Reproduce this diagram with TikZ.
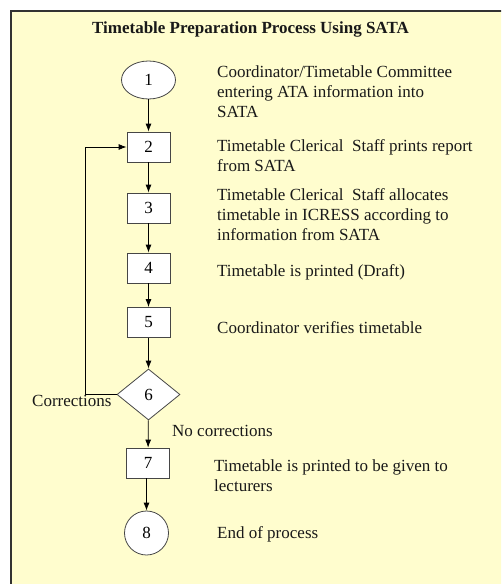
\documentclass[tikz,border=0pt]{standalone}
\usepackage{fontspec}
\setmainfont{Liberation Serif}
\usetikzlibrary{shapes.geometric,arrows.meta}
\definecolor{paper}{RGB}{255,253,206}
\definecolor{frame}{RGB}{50,50,50}
\definecolor{edge}{RGB}{70,70,70}
\definecolor{ink}{RGB}{25,25,25}
\begin{document}
\begin{tikzpicture}[x=1pt,y=-1pt,
  every node/.style={font=\fontsize{17}{20}\selectfont, text=ink},
  stepnode/.style={draw=edge, fill=white, line width=0.8pt, inner sep=0pt, text=black},
  boxnode/.style={stepnode, rectangle, minimum width=43pt, minimum height=30pt},
  ovalnode/.style={stepnode, ellipse, minimum width=54pt, minimum height=38pt},
  roundnode/.style={stepnode, circle, minimum size=44pt},
  choicenode/.style={stepnode, diamond, minimum width=63pt, minimum height=51pt},
  desc/.style={anchor=base west, inner sep=0pt},
  flow/.style={draw=black, line width=0.8pt, -{Latex[length=8pt,width=6pt]}}
]
\useasboundingbox (0,0) rectangle (501,584);
\clip (0,0) rectangle (501,584);
\fill[white] (0,0) rectangle (501,584);
\draw[fill=paper, draw=frame, line width=1.6pt] (10.8,10.8) rectangle (530,610);

\node[anchor=base, inner sep=0pt, font=\fontsize{17}{20}\selectfont\bfseries] (title) at (250.5,33) {Timetable Preparation Process Using SATA};

\node[ovalnode] (n1) at (148.5,80) {1};
\node[boxnode] (n2) at (148.5,147) {2};
\node[boxnode] (n3) at (148.5,208) {3};
\node[boxnode] (n4) at (148.5,268) {4};
\node[boxnode] (n5) at (148.5,322.5) {5};
\node[choicenode] (n6) at (148.5,394.5) {6};
\node[boxnode] (n7) at (148,463) {7};
\node[roundnode] (n8) at (146.5,533) {8};

\draw[flow] (n1) -- (n2);
\draw[flow] (n2) -- (n3);
\draw[flow] (n3) -- (n4);
\draw[flow] (n4) -- (n5);
\draw[flow] (n5) -- (n6);
\draw[flow] (n6) -- (n7);
\draw[flow] (n7.south -| n8.north) -- (n8.north);
\coordinate (fb) at (85.5,394.5);
\draw[flow] (n6.west) -- (fb) |- (n2.west);

\node[desc] (corr) at (32,406) {Corrections};
\node[desc] (nocorr) at (172,436) {No corrections};

\node[desc] (d1a) at (217,77.5) {Coordinator/Timetable Committee};
\node[desc] (d1b) at (217,97.5) {entering ATA information into};
\node[desc] (d1c) at (217,117.5) {SATA};
\node[desc] (d2a) at (217,151) {Timetable Clerical\ \ Staff prints report};
\node[desc] (d2b) at (217,171) {from SATA};
\node[desc] (d3a) at (217,200.5) {Timetable Clerical\ \ Staff allocates};
\node[desc] (d3b) at (217,220.5) {timetable in ICRESS according to};
\node[desc] (d3c) at (217,240.5) {information from SATA};
\node[desc] (d4) at (217,276) {Timetable is printed (Draft)};
\node[desc] (d5) at (217,333) {Coordinator verifies timetable};
\node[desc] (d7a) at (214,471.5) {Timetable is printed to be given to};
\node[desc] (d7b) at (214,491.5) {lecturers};
\node[desc] (d8) at (217,538) {End of process};
\end{tikzpicture}
\end{document}
